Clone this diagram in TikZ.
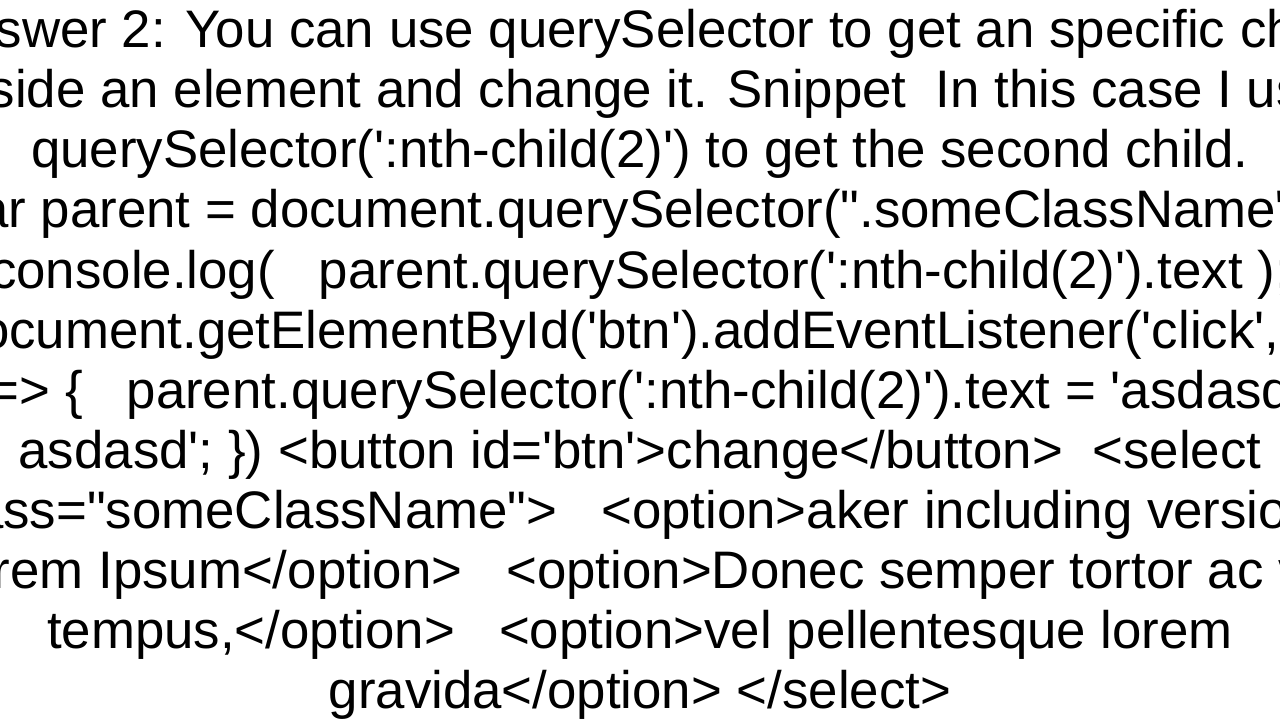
\documentclass[tikz,border=0pt]{standalone}
\usepackage{fontspec}
\newfontfamily\tf{Liberation Sans}
\begin{document}
\begin{tikzpicture}[x=1bp,y=-1bp]
\useasboundingbox (0,0) rectangle (1280,720);
\clip (0,0) rectangle (1280,720);
\tikzset{ln/.style={anchor=base,inner sep=0pt,font=\tf\fontsize{53}{60}\selectfont}}
\node[ln] (l1) at (640,48) {Answer 2: You can use querySelector to get an specific child};
\node[ln] (l2) at (640,108) {inside an element and change it. Snippet\ \ In this case I use};
\node[ln] (l3) at (640,168) {querySelector(':nth-child(2)') to get the second child.};
\node[ln] (l4) at (640,228) {var parent = document.querySelector(".someClassName");};
\node[ln] (l5) at (640,288) {console.log(\ \ \ parent.querySelector(':nth-child(2)').text );};
\node[ln] (l6) at (640,348) {document.getElementById('btn').addEventListener('click', ()};
\node[ln] (l7) at (640,408) {=> \{\ \ \ parent.querySelector(':nth-child(2)').text = 'asdasd};
\node[ln] (l8) at (640,468) {asdasd'; \}) <button id='btn'>change</button>\ \ <select};
\node[ln] (l9) at (640,528) {class="someClassName">\ \ \ <option>aker including versions};
\node[ln] (l10) at (640,588) {Lorem Ipsum</option>\ \ \ <option>Donec semper tortor ac vel};
\node[ln] (l11) at (640,648) {tempus,</option>\ \ \ <option>vel pellentesque lorem};
\node[ln] (l12) at (640,708) {gravida</option> </select>};
\end{tikzpicture}
\end{document}
